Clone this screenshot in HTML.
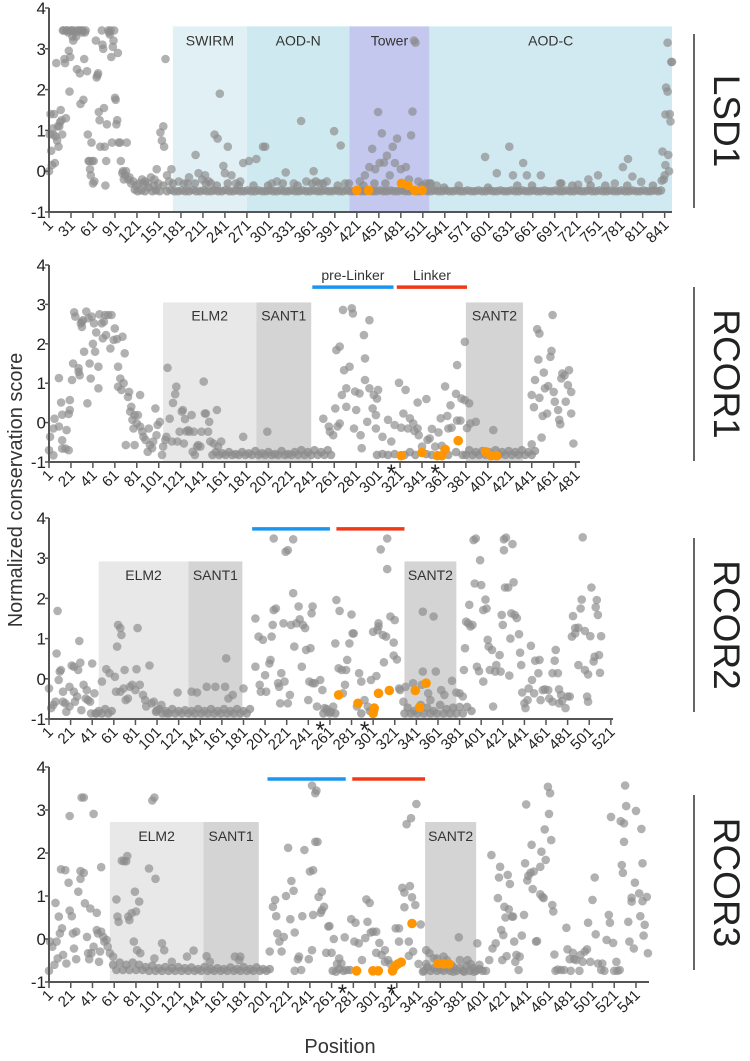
<!DOCTYPE html>
<html><head><meta charset="utf-8">
<style>
html,body{margin:0;padding:0;background:#fff;}
svg{display:block;font-family:"Liberation Sans",sans-serif;}
</style></head>
<body>
<svg id="chart" width="750" height="1061" viewBox="0 0 750 1061" xmlns="http://www.w3.org/2000/svg">
<text x="0" y="0" transform="translate(22,490) rotate(-90)" text-anchor="middle" font-size="20" fill="#333">Normalized conservation score</text>
<text x="340" y="1053" text-anchor="middle" font-size="20" fill="#333">Position</text>
</svg>
<script>
// ---------- DATA ----------
const yTicks = [-1,0,1,2,3,4];
const lsd1Ticks = [1,31,61,91,121,151,181,211,241,271,301,331,361,391,421,451,481,511,541,571,601,631,661,691,721,751,781,811,841];
const rcor1Ticks = [1,21,41,61,81,101,121,141,161,181,201,221,241,261,281,301,321,341,361,381,401,421,441,461,481];
const rcor2Ticks = [1,21,41,61,81,101,121,141,161,181,201,221,241,261,281,301,321,341,361,381,401,421,441,461,481,501,521];
const rcor3Ticks = [1,21,41,61,81,101,121,141,161,181,201,221,241,261,281,301,321,341,361,381,401,421,441,461,481,501,521,541];

const lsd1Regions = [[170,271,"SWIRM","#e1f0f5"],[271,411,"AOD-N","#cfe9f0"],[411,520,"Tower","#c4c8ef"],[520,851,"AOD-C","#d1eaf1"]];
const rcor1Regions = [[105,190,"ELM2","#e8e8e8"],[190,240,"SANT1","#d4d4d4"],[381,433,"SANT2","#d4d4d4"]];
const rcor2Regions = [[47,130,"ELM2","#e8e8e8"],[130,180,"SANT1","#d4d4d4"],[330,378,"SANT2","#d4d4d4"]];
const rcor3Regions = [[57,143,"ELM2","#e8e8e8"],[143,194,"SANT1","#d4d4d4"],[347,394,"SANT2","#d4d4d4"]];

const rcor1Linkers = [[241,315,"#1a96f0","pre-Linker"],[318,382,"#f03a17","Linker"]];
const rcor2Linkers = [[189,261,"#1a96f0",""],[267,330,"#f03a17",""]];
const rcor3Linkers = [[202,274,"#1a96f0",""],[280,347,"#f03a17",""]];

const rcor1Stars = [313,353];
const rcor2Stars = [252,293];
const rcor3Stars = [271,316];

const lsd1Points = [[1,0],[2,0.9],[3,1.4],[4,0.5],[5,0.15],[6,1.05],[7,0.9],[8,1.4],[9,0.2],[10,0.85],[11,2.65],[12,0.75],[13,1.1],[14,0.6],[15,1.1],[16,1.2],[17,1.5],[18,1.25],[19,0.9],
[20,3.45],[21,3.45],[22,2.75],[23,2.65],[24,1.3],[25,3.45],[26,3.45],[27,3.4],[28,2.95],[29,1.95],[30,2.8],
[31,3.45],[32,3.45],[33,3.3],[34,3.2],[35,3.45],[37,3.4],[38,3.3],[39,2.5],[40,3.45],[42,3.45],[43,2.4],[44,1.65],[45,3.45],[46,3.4],[47,3.45],[48,1.75],[49,2.75],[50,3.4],[51,3.45],
[53,2.45],[54,0.9],[55,0.25],[56,0.25],[57,0.05],[58,-0.1],[59,0.7],[60,0.25],[61,-0.3],[62,0.25],[63,-0.25],[65,3.2],[66,2.3],[67,2.35],[68,2.4],[69,1.45],[70,1.25],[71,0.6],
[73,3.45],[74,3.1],[75,3.0],[76,1.55],[77,0.6],[78,-0.35],[79,0.25],[80,1.15],[82,3.45],[83,3.4],[84,3.35],[85,3.45],[86,2.8],[87,0.7],[88,3.05],[89,3.2],[90,3.45],[91,1.8],[92,1.75],[93,1.15],[94,1.25],[95,2.9],[96,0.7],[98,0.7],[99,0.25],
[101,-0.05],[102,0],[103,-0.2],[105,-0.1],[106,0],[107,0.7],[109,-0.2],[111,-0.15],[113,-0.3],[116,-0.25],[120,-0.35],[124,-0.3],[128,-0.2],[132,-0.25],[136,-0.3],[140,-0.15],[145,-0.2],[148,0.05],[150,-0.3],[153,0.95],[155,0.75],[157,1.1],[158,0.6],[160,2.75],[162,-0.1],[165,-0.25],[168,0.05],
[178,-0.25],[185,-0.3],[192,-0.15],[201,0.4],[205,-0.05],[210,-0.2],[214,-0.1],[219,-0.25],[222,-0.3],[227,0.9],[231,0.8],[234,1.9],[239,0.13],[245,0.6],[241,-0.05],[250,-0.1],[256,-0.3],[262,-0.25],[266,0.2],[274,0.25],[284,0.3],[293,0.6],[296,0.6],[305,-0.3],[312,-0.25],[324,-0.03],[335,-0.3],[345,1.23],[352,-0.25],[362,0],[370,-0.3],[380,-0.25],[390,0.98],[399,0.63],[405,-0.3],
[425,-0.25],[432,-0.1],[438,0.1],[442,0.55],[446,0.05],[450,1.45],[452,0.2],[455,0.93],[458,0.21],[462,0.38],[466,-0.1],[470,0.6],[473,0.2],[476,0.8],[481,0.05],[488,0.1],[492,-0.2],[495,0.88],[497,1.46],[499,3.2],[501,3.15],[505,-0.25],[515,-0.3],[522,-0.3],[530,-0.35],
[560,-0.35],[596,0.35],[612,-0.05],[629,0.6],[634,-0.1],[648,0.2],[653,-0.1],[672,-0.1],[698,-0.3],[723,-0.33],[737,-0.2],[750,-0.1],[773,-0.3],[784,0.1],[791,0.3],[797,-0.13],[809,-0.26],
[837,-0.23],[838,0.48],[840,-0.2],[841,-0.1],[842,0.15],[842,1.39],[843,2.05],[845,1.95],[845,3.15],[846,0.4],[847,0],[848,1.4],[849,1.22],[850,2.68],[851,2.68]];

const lsd1Band = [[118,-0.45],[122,-0.49],[127,-0.47],[132,-0.49],[137,-0.4],[142,-0.49],[147,-0.47],[152,-0.49],[157,-0.35],[162,-0.49],[167,-0.46],[172,-0.49],[177,-0.49],[182,-0.47],[187,-0.49],[192,-0.49],[197,-0.46],[202,-0.49],[207,-0.49],[212,-0.47],[217,-0.49],[222,-0.49],[227,-0.47],[232,-0.49],[237,-0.49],[242,-0.46],[247,-0.49],[252,-0.49],[257,-0.47],[262,-0.49],[267,-0.49],[272,-0.47],[277,-0.49],[282,-0.49],[287,-0.47],[292,-0.49],[297,-0.49],[302,-0.47],[307,-0.49],[312,-0.49],[317,-0.47],[322,-0.49],[327,-0.49],[332,-0.47],[337,-0.49],[342,-0.49],[347,-0.47],[352,-0.49],[357,-0.49],[362,-0.47],[367,-0.49],[372,-0.49],[377,-0.47],[382,-0.49],[387,-0.49],[392,-0.47],[397,-0.49],[402,-0.49],[407,-0.47],[412,-0.49],[417,-0.49],[422,-0.47],[427,-0.49],[432,-0.49],[437,-0.47],[442,-0.49],[447,-0.49],[452,-0.47],[457,-0.49],[462,-0.49],[467,-0.47],[472,-0.49],[477,-0.49],[482,-0.47],[487,-0.49],[492,-0.49],[497,-0.47],[502,-0.49],[507,-0.49],[512,-0.47],[517,-0.49],[522,-0.49],[527,-0.47],[532,-0.49],[537,-0.49],[542,-0.47],[547,-0.49],[552,-0.49],[557,-0.47],[562,-0.49],[567,-0.49],[572,-0.47],[577,-0.49],[582,-0.49],[587,-0.47],[592,-0.49],[597,-0.49],[602,-0.47],[607,-0.49],[612,-0.49],[617,-0.47],[622,-0.49],[627,-0.49],[632,-0.47],[637,-0.49],[642,-0.49],[647,-0.47],[652,-0.49],[657,-0.49],[662,-0.47],[667,-0.49],[672,-0.49],[677,-0.47],[682,-0.49],[687,-0.49],[692,-0.47],[697,-0.49],[702,-0.49],[707,-0.47],[712,-0.49],[717,-0.49],[722,-0.47],[727,-0.49],[732,-0.49],[737,-0.47],[742,-0.49],[747,-0.49],[752,-0.47],[757,-0.49],[762,-0.49],[767,-0.47],[772,-0.49],[777,-0.49],[782,-0.47],[787,-0.49],[792,-0.49],[797,-0.47],[802,-0.49],[807,-0.49],[812,-0.47],[817,-0.49],[822,-0.49],[827,-0.47],[832,-0.49],[836,-0.47],
[130,-0.3],[145,-0.35],[170,-0.3],[190,-0.3],[200,-0.3],[215,-0.3],[230,-0.35],[245,-0.3],[260,-0.35],[280,-0.35],[300,-0.35],[320,-0.3],[340,-0.35],[360,-0.3],[365,-0.25],[375,-0.3],[395,-0.35],[410,-0.3],[430,-0.35],[445,-0.3],[460,-0.3],[485,-0.35],[510,-0.35],[520,-0.3],[540,-0.4],[600,-0.4],[640,-0.35],[660,-0.35],[700,-0.3],[715,-0.35],[740,-0.35],[760,-0.35],[790,-0.35],[825,-0.35]];

const lsd1Orange = [[421,-0.47],[437,-0.47],[482,-0.3],[491,-0.35],[500,-0.47],[510,-0.47]];

const rcor1Points = [[1,-0.7],[2,-0.36],[5,-0.15],[5,-0.83],[6,0.1],[10,-0.1],[10,1.13],[13,-0.66],[12,0.51],[13,0.2],[13,-0.45],[16,-0.66],[17,-0.19],[19,-0.7],[20,0.57],[20,0.32],[19,0.22],[22,1.08],[23,1.5],[24,2.8],[25,2.69],[28,1.29],[28,1.38],[29,1.2],[30,2.52],[31,2.56],[31,2.43],[32,2.6],[33,1.8],[35,2.82],[36,0.49],[37,2.65],[38,1.5],[39,1.12],[40,2.69],[41,2.0],[42,2.52],[43,1.8],[44,2.29],[46,0.87],[46,1.42],[47,2.75],[49,2.52],[50,2.14],[51,2.56],[52,2.73],[53,2.22],[55,2.73],[57,1.88],[58,2.73],[60,2.1],[61,2.39],[63,2.12],[64,1.42],[64,0.91],[66,1.12],[67,0.83],[68,2.18],[69,1.0],[70,1.76],[71,-0.57],[73,0.65],[74,0.78],[75,0.28],[76,0.4],[77,0.07],[78,-0.15],[79,-0.57],[79,0.19],[81,-0.02],[82,0.19],[84,0.7],[84,-0.1],[86,-0.23],[87,-0.36],[89,-0.44],[91,-0.74],[92,-0.15],[93,-0.57],[95,-0.65],[96,-0.48],[98,0.36],[99,-0.32],[100,-0.06],[102,0.02],[104,-0.82],[105,-0.61],[107,-0.44],[108,-0.36],[109,1.39],[111,0.1],[113,-0.48],[114,0.5],[116,0.72],[117,0.91],[118,-0.48],[120,-0.23],[122,0.28],[123,0.32],[124,-0.53],[125,0.09],[126,-0.22],[128,-0.19],[129,-0.23],[131,0.19],[132,-0.74],[133,-0.23],[134,-0.82],[136,-0.61],[137,-0.57],[139,-0.61],[140,-0.23],[142,1.04],[143,0.23],[144,0.23],[146,-0.23],[147,0.02],[148,-0.48],[151,-0.53],[154,0.32],[155,-0.61],[158,-0.48],[178,-0.36],[200,-0.23],
[251,0.1],[256,-0.1],[257,-0.23],[260,-0.32],[262,0.36],[263,1.84],[266,1.93],[264,-0.1],[266,-0.02],[268,0.7],[269,2.86],[270,1.33],[272,0.87],[272,0.4],[275,1.42],[277,2.9],[278,2.77],[279,-0.15],[280,0.79],[281,0.32],[284,0.74],[285,-0.32],[286,-0.65],[288,2.22],[289,1.63],[289,1.08],[291,0.02],[293,2.6],[293,0.87],[296,0.36],[297,0.7],
[301,0.83],[300,0.61],[299,0.19],[299,-0.15],[305,-0.36],[310,0.07],[313,-0.48],[316,-0.06],[320,1.01],[322,-0.13],[326,0.83],[324,0.23],[328,-0.15],[330,0.11],[333,-0.02],[334,-0.21],[337,-0.15],[337,0.51],[338,-0.32],[341,-0.61],[345,0.6],[346,-0.44],[348,-0.4],[350,-0.16],[353,-0.61],[356,-0.25],[358,0.11],[359,-0.59],[362,0.92],[364,0.17],[365,-0.15],[367,0.44],[368,-0.13],[372,0.73],[373,0.05],[373,1.46],[376,0.05],[377,0.61],[380,0.57],[380,2.05],[382,-0.14],[384,0.49],[385,-0.02],[390,0.02],[406,-0.19],[441,-0.55],
[441,0.7],[443,0.39],[444,1.08],[446,2.37],[447,1.6],[448,2.26],[448,0.63],[450,-0.38],[451,0.17],[452,1.27],[453,0.87],[455,0.23],[456,0.93],[458,1.67],[459,1.82],[460,2.73],[461,0.78],[462,0.53],[465,0.32],[466,0.07],[467,-0.04],[468,1.12],[469,1.25],[471,1.2],[472,0.53],[474,0.95],[475,1.33],[477,0.78],[477,0.23],[479,-0.53]];

const rcor1Band = [[150,-0.82],[153,-0.75],[156,-0.82],[159,-0.78],[162,-0.82],[165,-0.75],[168,-0.82],[171,-0.8],[174,-0.82],[177,-0.75],[180,-0.82],[183,-0.78],[186,-0.82],[189,-0.72],[192,-0.82],[195,-0.78],[198,-0.82],[201,-0.75],[204,-0.82],[207,-0.8],[210,-0.82],[213,-0.72],[216,-0.82],[219,-0.8],[222,-0.82],[225,-0.75],[228,-0.82],[231,-0.7],[234,-0.82],[237,-0.75],[240,-0.82],[243,-0.7],[246,-0.82],[249,-0.75],[252,-0.82],[255,-0.7],[258,-0.82],
[300,-0.82],[305,-0.8],[310,-0.82],[316,-0.8],[325,-0.82],[330,-0.75],[335,-0.82],[345,-0.8],[350,-0.82],[365,-0.82],[372,-0.75],[378,-0.82],
[381,-0.82],[384,-0.7],[387,-0.82],[390,-0.75],[393,-0.82],[396,-0.72],[399,-0.82],[402,-0.75],[405,-0.82],[408,-0.7],[411,-0.82],[414,-0.75],[417,-0.82],[420,-0.72],[423,-0.82],[426,-0.75],[429,-0.82],[432,-0.7],[435,-0.82],[438,-0.75],[441,-0.82],[444,-0.72]];

const rcor1Orange = [[322,-0.84],[341,-0.76],[355,-0.84],[359,-0.84],[362,-0.68],[374,-0.46],[399,-0.74],[404,-0.84],[409,-0.84]];

const rcor2Points = [[1,-0.24],[3,-0.73],[5,-0.65],[7,-0.57],[9,1.69],[8,0.63],[10,-0.03],[11,0.18],[12,0.22],[14,-0.32],[14,-0.57],[16,-0.61],[17,-0.82],[20,-0.69],[20,-0.2],[22,0.33],[24,-0.32],[24,0.3],[25,-0.57],[27,-0.44],[28,0.22],[29,0.94],[30,0.4],[31,-0.78],[33,-0.15],[35,-0.49],[36,-0.28],[37,-0.53],[39,-0.57],[40,-0.86],[41,0.38],[43,-0.36],[45,-0.86],[50,-0.07],[54,0.24],[57,0.14],[62,0.05],[64,0.8],[65,1.34],[67,1.26],[68,1.09],[67,-0.32],[63,-0.32],[70,-0.24],[71,0.22],[72,-0.53],[74,-0.49],[76,-0.2],[78,-0.15],[81,-0.28],[82,0.24],[83,1.26],[85,-0.15],[88,-0.4],[90,-0.53],[91,-0.69],[94,0.33],[96,-0.61],[98,-0.57],[101,-0.78],[105,-0.65],[110,-0.86],[120,-0.34],[133,-0.32],[138,-0.34],[147,-0.2],[155,-0.2],[164,-0.2],[165,0.51],[167,-0.49],[171,-0.4],[181,-0.24],
[192,0.3],[192,1.5],[195,1.05],[196,-0.15],[197,-0.32],[199,0.97],[201,0.09],[202,-0.32],[205,0.38],[206,0.47],[207,1.05],[208,1.34],[209,1.71],[209,3.49],[211,1.75],[213,-0.11],[214,-0.2],[215,-0.61],[216,0.14],[218,1.38],[219,-0.07],[220,3.16],[222,3.2],[222,-0.61],[224,-0.4],[225,1.34],[227,2.13],[227,3.47],[228,0.8],[230,1.38],[232,1.8],[233,1.48],[235,0.3],[236,1.34],[238,1.26],[239,0.72],[241,-0.53],[242,-0.07],[243,0.76],[244,1.63],[245,1.8],[245,-0.11],[247,-0.11],[249,-0.69],[252,-0.03],[254,-0.28],[256,-0.73],[259,-0.82],[261,-0.86],[264,-0.69],[266,0.88],[267,1.96],[269,0.26],[270,1.69],[272,0.22],[273,-0.36],[275,-0.15],[276,0.22],[277,0.47],[279,0.88],[281,1.6],[282,1.13],[283,1.13],[286,-0.69],[288,0.14],[290,-0.07],[293,-0.53],[296,-0.69],[299,-0.03],[301,1.17],
[302,-0.78],[304,0.07],[305,1.21],[306,1.38],[306,1.3],[308,3.22],[310,1.09],[313,1.05],[314,3.49],[314,2.73],[311,0.41],[317,1.55],[320,0.9],[321,1.46],[320,0.58],[323,0.48],[325,-0.24],[326,-0.28],[329,-0.57],[331,-0.2],[338,-0.11],[346,-0.15],[347,1.67],[347,0.18],[352,-0.36],[354,-0.53],[357,1.55],[359,0.18],[364,-0.28],[367,-0.4],[374,-0.05],[378,-0.34],[381,-0.36],[384,-0.44],[385,0.22],[386,0.76],[387,1.42],[389,1.38],[390,1.84],[391,1.3],[393,1.34],[394,3.45],[396,3.49],[395,2.37],[397,0.3],[399,0.19],[400,2.95],[401,2.33],[403,1.71],[403,-0.07],[405,1.97],[406,1.75],[407,0.97],[408,0.8],[409,0.22],[411,0.72],[412,-0.69],[414,0.18],[415,0.34],[418,0.59],[419,0.18],[420,1.59],[421,1.34],[422,3.47],[422,3.2],[424,3.51],[423,2.27],[426,2.27],[427,0.08],[428,1.0],[429,1.63],[430,3.35],[431,2.4],[432,1.59],[434,1.51],[436,1.11],[437,0.65],[438,0.34],[439,-0.34],[441,-0.61],[442,-0.73],[444,-0.53],[445,-0.24],[447,0.82],[448,-0.03],[450,-0.36],[451,0.45],[454,0.14],[455,0.47],[456,-0.53],[458,-0.28],[460,-0.26],[463,-0.28],[464,-0.49],[467,0.14],[467,-0.57],[469,0.45],[470,0.72],[472,0.14],[473,-0.26],[473,-0.61],[475,-0.4],[476,-0.55],[479,-0.73],[481,-0.44],[483,-0.44],[485,1.05],[486,1.56],[488,1.26],[488,1.13],[491,1.27],[491,0.34],[493,1.75],[494,1.97],[495,3.52],[497,1.19],[497,0.22],[499,-0.44],[500,0.11],[500,-0.57],[502,1.06],[503,2.27],[505,0.43],[506,0.55],[507,1.78],[508,1.96],[509,1.59],[510,0.59],[512,1.06],[511,0.15]];

const rcor2Band = [[44,-0.86],[47,-0.8],[50,-0.86],[53,-0.75],[56,-0.86],[59,-0.8],[100,-0.82],[103,-0.75],[106,-0.86],[109,-0.8],[112,-0.86],[115,-0.75],[118,-0.86],[121,-0.8],[124,-0.86],[127,-0.78],[130,-0.86],[133,-0.8],[136,-0.86],[139,-0.75],[142,-0.86],[145,-0.8],[148,-0.86],[151,-0.75],[154,-0.86],[157,-0.8],[160,-0.86],[163,-0.75],[166,-0.86],[169,-0.8],[172,-0.86],[175,-0.75],[178,-0.86],[181,-0.8],[184,-0.86],[187,-0.75],
[255,-0.86],[258,-0.75],[262,-0.82],[266,-0.86],[290,-0.86],[298,-0.8],
[330,-0.86],[333,-0.72],[336,-0.86],[339,-0.8],[342,-0.86],[345,-0.65],[348,-0.86],[351,-0.72],[354,-0.86],[357,-0.8],[360,-0.86],[363,-0.65],[366,-0.86],[369,-0.75],[372,-0.86],[375,-0.72],[378,-0.86],[381,-0.7],[384,-0.86],[388,-0.7],[392,-0.8]];

const rcor2Orange = [[269,-0.4],[287,-0.61],[301,-0.86],[302,-0.73],[306,-0.36],[316,-0.29],[340,-0.29],[344,-0.71],[350,-0.11]];

const rcor3Points = [[1,-0.74],[2,-0.06],[4,-0.18],[6,-0.6],[7,0.84],[8,-0.06],[9,-0.45],[10,0.52],[11,0.13],[12,1.62],[13,0.25],[14,-0.37],[16,1.6],[17,-0.57],[19,1.31],[20,2.86],[20,0.66],[22,0.53],[23,0.13],[24,-0.22],[26,0.17],[26,-0.47],[28,1.1],[30,1.58],[30,1.4],[31,3.29],[33,3.29],[33,1.54],[34,0.83],[36,0.05],[37,-0.33],[38,-0.47],[39,0.71],[40,-0.33],[42,2.91],[42,-0.18],[45,0.61],[45,0.21],[46,0.13],[47,-0.53],[48,-0.29],[49,1.67],[49,0.17],[51,0.05],[52,-0.06],[54,-0.02],[55,-0.18],[57,-0.33],[60,-0.41],[63,0.92],[65,0.4],[64,0.52],[68,1.82],[70,1.81],[72,1.81],[73,1.93],[74,0.52],[75,0.44],[77,0.6],[79,-0.06],[80,1.1],[81,0.64],[84,0.87],[82,-0.26],[85,-0.33],[93,1.64],[96,3.22],[98,3.29],[99,1.4],[98,-0.45],[105,-0.1],[107,-0.26],[114,-0.53],[128,-0.41],[134,-0.27],[146,-0.4],[149,-0.53],[172,-0.41],[176,-0.49],[177,-0.41],
[204,-0.29],[207,0.75],[209,0.91],[210,0.53],[211,0.13],[213,-0.06],[215,-0.29],[217,0.05],[219,1.0],[221,2.12],[223,0.46],[224,1.35],[226,1.12],[227,0.15],[227,-0.74],[230,-0.47],[231,-0.41],[233,-0.72],[234,0.53],[236,2.07],[240,-0.47],[241,1.57],[243,-0.26],[244,1.6],[244,0.56],[246,2.26],[243,3.57],[246,3.39],[247,3.45],[248,2.26],[249,0.98],[251,0.61],[252,0.67],[252,1.1],[254,0.75],[256,-0.32],[258,0.29],[259,0.3],[261,-0.32],[263,0],[265,-0.76],[266,-0.58],[268,-0.45],[270,-0.57],[273,0.04],[275,-0.72],[279,0.46],[282,-0.06],[283,0.38],[286,-0.1],[289,-0.49],[292,0.02],[293,0.92],[294,0.4],[296,0.84],[297,0.15],[299,0.17],
[302,0.17],[305,-0.09],[302,-0.32],[307,-0.37],[310,-0.26],[310,-0.53],[313,-0.49],[315,-0.58],[320,0.25],[323,0.25],[323,-0.06],[326,1.19],[328,1.08],[328,0.74],[330,2.67],[332,-0.39],[332,-0.06],[333,1.23],[334,2.81],[335,0.97],[336,-0.29],[338,0.79],[339,3.14],[341,-0.58],[343,0.34],[345,-0.76],[348,-0.26],[348,-0.58],[351,-0.33],[355,-0.45],[358,-0.45],[361,-0.71],[364,-0.41],[367,-0.49],[371,-0.6],[373,-0.76],[378,0.04],[379,-0.49],[383,-0.76],[386,-0.49],[389,-0.58],[392,-0.76],[395,-0.1],[397,-0.6],[403,-0.74],[406,-0.49],[408,1.95],[409,-0.22],[412,-0.1],[414,0.95],[415,1.43],[416,1.68],[417,0.21],[418,-0.49],[419,0.09],[420,0.75],[421,0.5],[422,-0.4],[423,1.49],[424,0.69],[425,1.28],[427,0.52],[428,0.52],[429,-0.06],[430,-0.53],[431,-0.37],[433,-0.72],[434,-0.41],[436,0.08],[438,0.56],[439,1.76],[440,3.13],[441,1.36],[442,1.47],[444,1.54],[445,2.19],[446,1.16],[447,1.57],[449,-0.06],[450,-0.05],[453,1.68],[453,1.04],[454,2.03],[455,0.98],[456,0.95],[457,2.55],[458,1.84],[460,3.54],[461,2.91],[462,3.39],[463,2.3],[464,0.79],[465,0.64],[466,-0.36],[467,-0.74],[469,-0.71],[472,-0.72],[475,-0.72],[477,0.26],[478,-0.24],[480,-0.47],[481,-0.74],[483,-0.32],[484,-0.47],[486,-0.49],[489,-0.74],[490,-0.37],[492,-0.53],[494,-0.29],[496,-0.24],[497,0.38],[499,-0.53],[501,0.91],[503,1.43],[504,0.11],[506,-0.57],[509,-0.72],[510,-0.57],[512,-0.74],[514,-0.02],[516,0.56],[517,0.38],[518,2.84],[520,-0.09],[521,-0.74],[523,-0.53],[524,-0.74],[526,-0.72],[527,2.74],[528,1.72],[529,1.54],[530,2.26],[530,2.69],[531,3.57],[532,3.09],[534,0.4],[535,-0.06],[537,0.87],[537,0.96],[539,-0.22],[540,1.31],[541,2.98],[544,1.06],[545,0.53],[546,2.56],[547,1.76],[547,0.88],[548,0.08],[549,0.33],[551,0.98],[552,-0.33]];

const rcor3Band = [[60,-0.6],[63,-0.72],[66,-0.55],[69,-0.72],[72,-0.6],[75,-0.72],[78,-0.55],[81,-0.72],[84,-0.6],[87,-0.72],[90,-0.65],[93,-0.74],[96,-0.62],[99,-0.74],[102,-0.68],[105,-0.74],[108,-0.65],[111,-0.74],[114,-0.68],[117,-0.74],[120,-0.65],[123,-0.74],[126,-0.68],[129,-0.74],[132,-0.66],[135,-0.74],[138,-0.7],[141,-0.74],[144,-0.65],[147,-0.74],[150,-0.7],[153,-0.74],[156,-0.68],[159,-0.74],[162,-0.7],[165,-0.74],[168,-0.66],[171,-0.74],[174,-0.7],[177,-0.74],[180,-0.65],[183,-0.74],[186,-0.7],[189,-0.74],[192,-0.66],[195,-0.74],[198,-0.7],[201,-0.74],[204,-0.7],
[262,-0.74],[268,-0.7],[272,-0.74],[278,-0.72],
[346,-0.74],[349,-0.65],[352,-0.74],[355,-0.68],[358,-0.74],[361,-0.62],[364,-0.74],[367,-0.68],[370,-0.74],[373,-0.65],[376,-0.74],[379,-0.68],[382,-0.74],[385,-0.62],[388,-0.74],[391,-0.68],[394,-0.74],[397,-0.7],[400,-0.74]];

const rcor3Orange = [[284,-0.74],[299,-0.74],[304,-0.74],[317,-0.74],[319,-0.64],[322,-0.58],[325,-0.54],[335,0.36],[359,-0.57],[364,-0.58],[369,-0.58]];

// ---------- RENDER ----------
const NS = "http://www.w3.org/2000/svg";
const svg = document.getElementById("chart");
function mk(tag, attrs, parent) {
  const e = document.createElementNS(NS, tag);
  for (const k in attrs) e.setAttribute(k, attrs[k]);
  (parent || svg).appendChild(e);
  return e;
}

const panelDefs = [
  {key:"lsd1", label:"LSD1", x0:49, x1:672, pMax:851, yTop:8, yBot:212, ticks:lsd1Ticks, regions:lsd1Regions, regTop:3.55, regLabel:3.2, linkers:[], stars:[], pts:lsd1Points, band:lsd1Band, orange:lsd1Orange, sideTop:34, sideBot:208},
  {key:"rcor1", label:"RCOR1", x0:49, x1:580, pMax:485, yTop:265, yBot:462, ticks:rcor1Ticks, regions:rcor1Regions, regTop:3.05, regLabel:2.72, linkers:rcor1Linkers, linkY:3.44, stars:rcor1Stars, pts:rcor1Points, band:rcor1Band, orange:rcor1Orange, sideTop:287, sideBot:461},
  {key:"rcor2", label:"RCOR2", x0:49, x1:613, pMax:523, yTop:518, yBot:719, ticks:rcor2Ticks, regions:rcor2Regions, regTop:2.92, regLabel:2.58, linkers:rcor2Linkers, linkY:3.73, stars:rcor2Stars, pts:rcor2Points, band:rcor2Band, orange:rcor2Orange, sideTop:538, sideBot:712},
  {key:"rcor3", label:"RCOR3", x0:49, x1:649, pMax:553, yTop:767, yBot:982, ticks:rcor3Ticks, regions:rcor3Regions, regTop:2.72, regLabel:2.4, linkers:rcor3Linkers, linkY:3.72, stars:rcor3Stars, pts:rcor3Points, band:rcor3Band, orange:rcor3Orange, sideTop:795, sideBot:970}
];

panelDefs.forEach(P => {
  const g = mk("g", {});
  
  
  const xs = p => P.x0 + (p - 1) * (P.x1 - P.x0) / (P.pMax - 1);
  const ys = v => P.yBot - (v + 1) * (P.yBot - P.yTop) / 5;

  P.regions.forEach(r => {
    const rect = mk("rect", {x:xs(r[0]), y:ys(P.regTop), width:xs(r[1]) - xs(r[0]), height:P.yBot - ys(P.regTop), fill:r[3]}, g);
    
    
    const t = mk("text", {x:(xs(r[0]) + xs(r[1])) / 2, y:ys(P.regLabel) + 5, "text-anchor":"middle", "font-size":"14", fill:"#333"}, g);
    t.textContent = r[2];
    
    
  });

  P.linkers.forEach(l => {
    const ln = mk("line", {x1:xs(l[0]), x2:xs(l[1]), y1:ys(P.linkY), y2:ys(P.linkY), stroke:l[2], "stroke-width":"3.5"}, g);
    
    
    if (l[3]) {
      const t = mk("text", {x:(xs(l[0]) + xs(l[1])) / 2, y:ys(P.linkY) - 7, "text-anchor":"middle", "font-size":"14", fill:"#333"}, g);
      t.textContent = l[3];
      
      
    }
  });

  const drawPts = (arr, fill, op, r, nm) => arr.forEach(d => {
    const c = mk("circle", {cx:xs(d[0]).toFixed(1), cy:ys(d[1]).toFixed(1), r:r, fill:fill, "fill-opacity":op}, g);
    
    
  });
  drawPts(P.band, "#8c8c8c", 0.75, 4.3, 'score-point');
  drawPts(P.pts, "#8c8c8c", 0.68, 4.3, 'score-point');
  drawPts(P.orange, "#ff9500", 1, 4.8, 'highlight-point');

  const ax = mk("path", {d:`M${P.x0},${P.yTop} V${P.yBot} H${P.x1}`, fill:"none", stroke:"#555", "stroke-width":"2"}, g);
  
  
  yTicks.forEach(v => {
    const tk = mk("line", {x1:P.x0 - 4, x2:P.x0, y1:ys(v), y2:ys(v), stroke:"#555", "stroke-width":"1.5"}, g);
    
    
    const t = mk("text", {x:P.x0 - 3, y:ys(v) + 6, "text-anchor":"end", "font-size":"17", fill:"#222"}, g);
    t.textContent = v;
    
    
  });
  P.ticks.forEach(p => {
    const x = xs(p);
    const tk = mk("line", {x1:x, x2:x, y1:P.yBot, y2:P.yBot + 6, stroke:"#555", "stroke-width":"1.5"}, g);
    
    
    const t = mk("text", {x:0, y:0, transform:`translate(${x + 5},${P.yBot + 14}) rotate(-45)`, "text-anchor":"end", "font-size":"15", fill:"#222"}, g);
    t.textContent = p;
    
    
  });
  P.stars.forEach(p => {
    const t = mk("text", {x:xs(p), y:P.yBot + 19, "text-anchor":"middle", "font-size":"24", fill:"#222"}, g);
    t.textContent = "*";
    
    
  });

  const sl = mk("line", {x1:694, x2:694, y1:P.sideTop, y2:P.sideBot, stroke:"#333", "stroke-width":"1.5"}, g);
  
  
  const st = mk("text", {x:0, y:0, transform:`translate(714,${(P.sideTop + P.sideBot) / 2}) rotate(90)`, "text-anchor":"middle", "font-size":"37", fill:"#222"}, g);
  st.textContent = P.label;
  
  
});
</script>
</body></html>
